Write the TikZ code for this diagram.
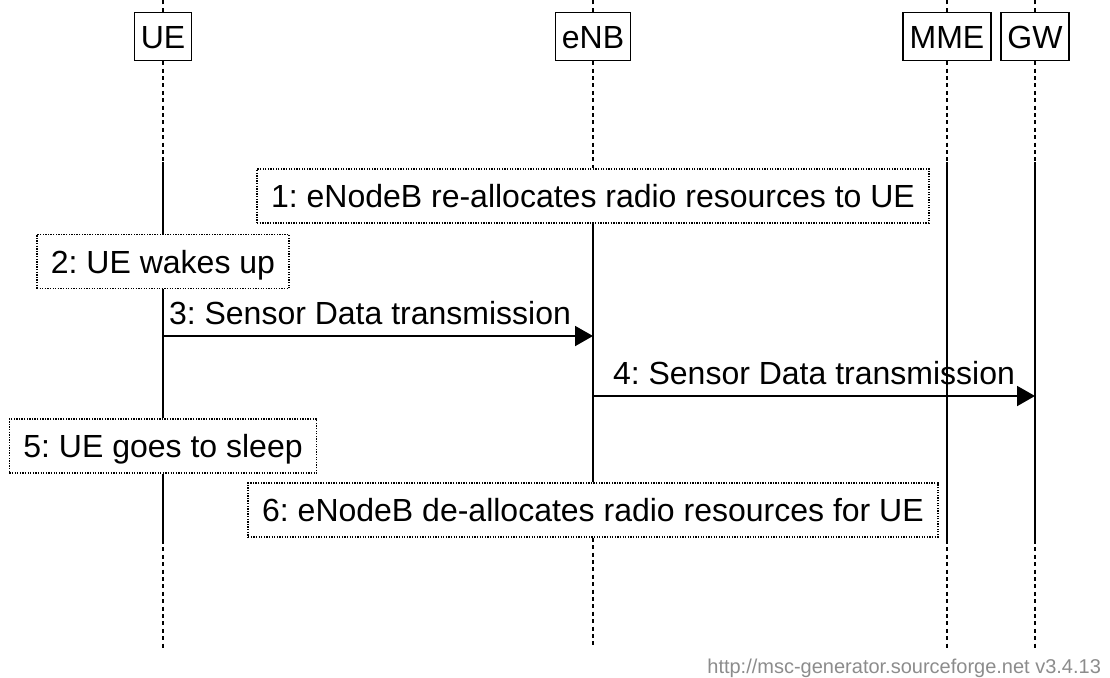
\documentclass[tikz,border=0pt]{standalone}
\usepackage{fontspec}
\setmainfont{Liberation Sans}
\usetikzlibrary{arrows.meta, positioning, calc}
\definecolor{footgray}{HTML}{8C8C8C}
\frenchspacing

\begin{document}
\begin{tikzpicture}[x=0.5pt, y=-0.5pt,
    font=\fontsize{16}{19}\selectfont,
    entity/.style={draw, line width=0.7pt, minimum height=24pt, inner xsep=3.25pt, inner ysep=0pt,
      text height=11.5pt, text depth=0pt},
    notebox/.style={draw, line width=0.7pt, dash pattern=on 0.65pt off 0.65pt, fill=white,
      minimum height=27pt, inner xsep=7pt, inner ysep=0pt, text height=11.5pt, text depth=0pt},
    lifedash/.style={line width=0.65pt, dash pattern=on 2pt off 1.7pt},
    lifesolid/.style={line width=0.65pt},
    msg/.style={line width=1pt, -{Triangle[length=9pt, width=10pt]}},
    msglabel/.style={above=5pt, inner sep=0pt}
  ]
  \useasboundingbox (0,0) rectangle (1110,677);

  \coordinate (top) at (0,0);
  \coordinate (act) at (0,162);
  \coordinate (deact) at (0,540);
  \coordinate (bot) at (0,648);
  \coordinate (m3) at (0,336);
  \coordinate (m4) at (0,396);

  \node[entity] (ue) at (163,36.5) {UE};
  \node[entity] (enb) at (593,36.5) {eNB};
  \node[entity] (mme) at (947,36.5) {MME};
  \node[entity] (gw) at (1035,36.5) {GW};

  \node[notebox] (n1) at (593,196) {1: eNodeB re-allocates radio resources to UE};
  \node[notebox] (n2) at (163,261.5) {2: UE wakes up};
  \node[notebox] (n5) at (163,446) {5: UE goes to sleep};
  \node[notebox] (n6) at (593,510) {6: eNodeB de-allocates radio resources for UE};

  \foreach \e in {ue,enb,mme,gw} {
    \draw[lifedash] (\e.north) -- (\e |- top);
  }
  \foreach \e in {mme,gw} {
    \draw[lifedash] (\e.south) -- (\e |- act);
    \draw[lifesolid] (\e |- act) -- (\e |- deact);
    \draw[lifedash] (\e |- deact) -- (\e |- bot);
  }

  \draw[lifedash] (ue.south) -- (ue |- act);
  \draw[lifesolid] (ue |- act) -- (n2.north);
  \draw[lifesolid] (n2.south) -- (n5.north);
  \draw[lifesolid] (n5.south) -- (ue |- deact);
  \draw[lifedash] (ue |- deact) -- (ue |- bot);

  \draw[lifedash] (enb.south) -- (n1.north);
  \draw[lifesolid] (n1.south) -- (n6.north);
  \draw[lifedash] (n6.south) -- (enb |- bot);

  \draw[msg] (ue |- m3) -- (enb |- m3) node[midway, msglabel, xshift=-4pt] (l3) {3: Sensor Data transmission};
  \draw[msg] (enb |- m4) -- (gw |- m4) node[midway, msglabel] (l4) {4: Sensor Data transmission};

  \node[anchor=base east, font=\fontsize{10}{12}\selectfont, text=footgray] (footer) at (1108,673)
    {http://msc-generator.sourceforge.net v3.4.13};
\end{tikzpicture}
\end{document}
